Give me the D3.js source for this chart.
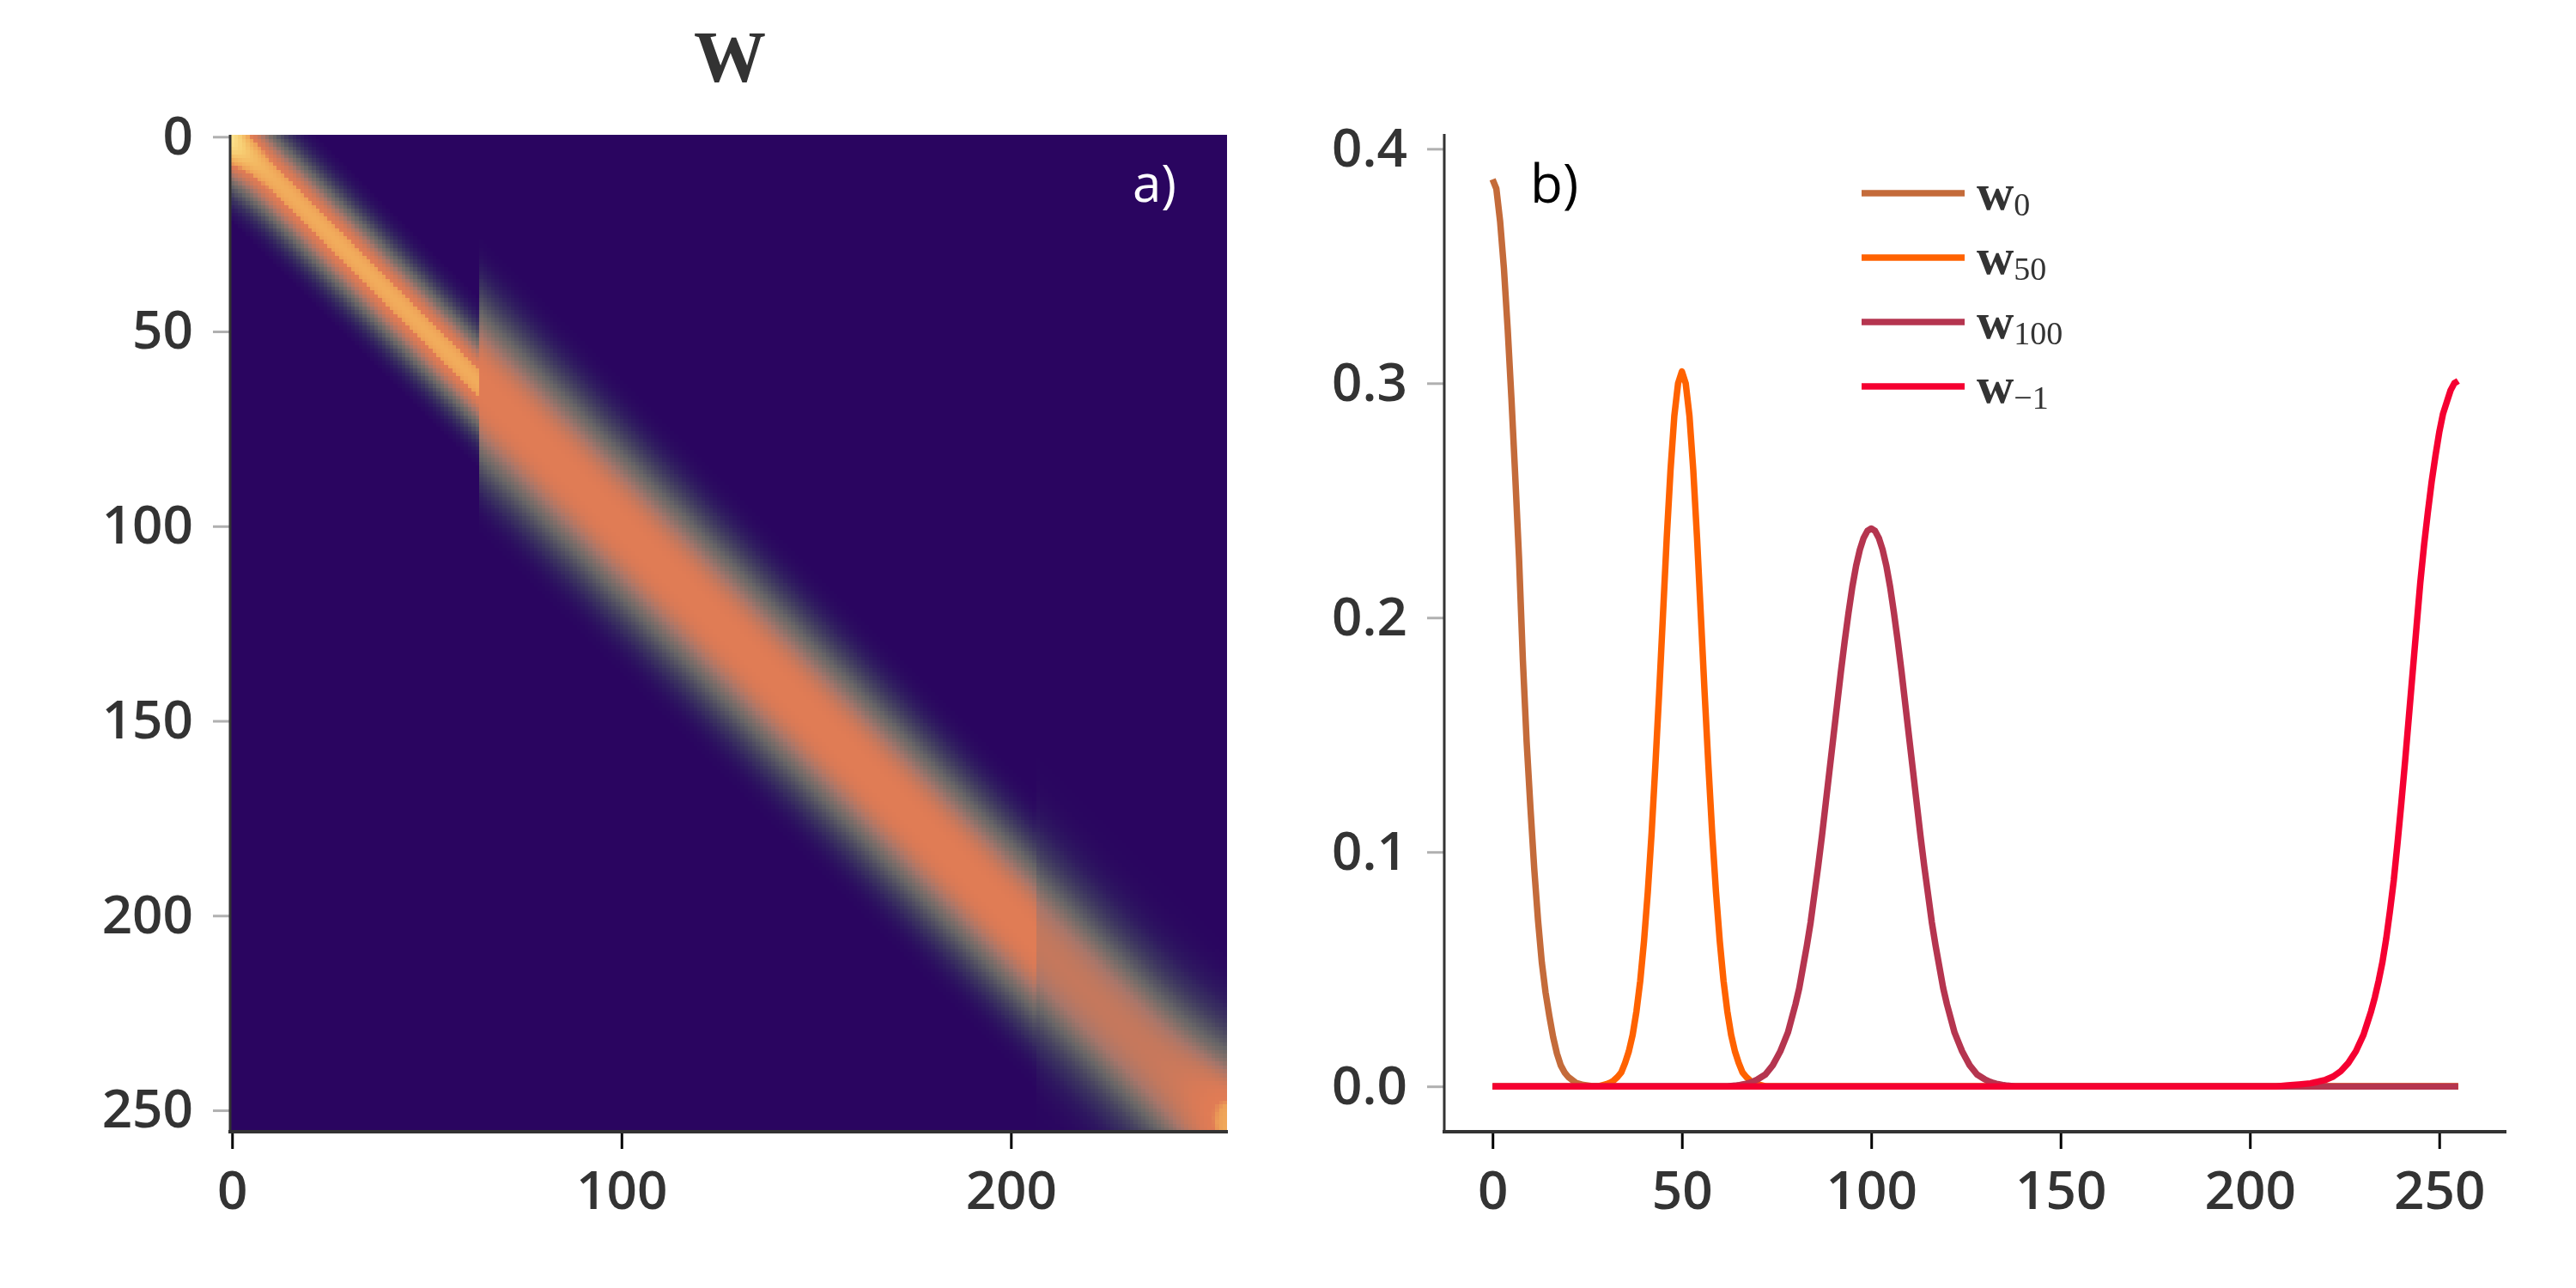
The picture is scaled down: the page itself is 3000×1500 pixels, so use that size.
<!DOCTYPE html>
<html>
<head>
<meta charset="utf-8">
<script src="https://cdn.jsdelivr.net/npm/d3@7"></script>
<style>
  body { margin: 0; background: #fff; }
  #wrap { position: relative; width: 3000px; height: 1500px; }
  #wrap canvas, #wrap svg { position: absolute; left: 0; top: 0; }
</style>
</head>
<body>
<div id="wrap">
  <canvas id="heat" width="3000" height="1500"></canvas>
  <svg id="chart" width="3000" height="1500"></svg>
</div>
<script>
const size = 256

// band profile of a column of W, by distance from the diagonal
const segmentStarts = [0, 64, 207]
const profileA = [0.305, 0.300, 0.286, 0.263, 0.234, 0.201, 0.168, 0.137, 0.108, 0.083, 0.062, 0.045,
  0.032, 0.022, 0.015, 0.010, 0.006, 0.004, 0.0025, 0.0015, 0.0009, 0.0005, 0]
const profileB = [0.238, 0.237, 0.234, 0.229, 0.222, 0.213, 0.202, 0.190, 0.177, 0.163, 0.149, 0.135,
  0.121, 0.107, 0.094, 0.082, 0.070, 0.060, 0.051, 0.042, 0.035, 0.029, 0.023, 0.019, 0.015, 0.012,
  0.009, 0.007, 0.005, 0.004, 0.003, 0.0022, 0.0016, 0.0011, 0.0008, 0.0005, 0.0003, 0.0002, 0]
const profileC = [0.151, 0.150, 0.149, 0.146, 0.144, 0.140, 0.135, 0.129, 0.123, 0.116, 0.108, 0.098,
  0.089, 0.079, 0.070, 0.061, 0.052, 0.044, 0.038, 0.032, 0.027, 0.023, 0.019, 0.016, 0.0135, 0.011,
  0.009, 0.0075, 0.006, 0.005, 0.004, 0.0033, 0.0026, 0.0021, 0.0018, 0.0014, 0.0012, 0.001, 0.0008,
  0.0006, 0.0005, 0.0004, 0.0003, 0.0002, 0.0002, 0.0001, 0.0001, 0.0001, 0]

// edge columns
const w0X = [0, 1, 2, 3, 4, 5, 6, 7, 8, 9, 10, 11, 12, 13, 14, 15, 16, 17, 18, 19, 20, 22, 24, 26, 30, 255]
const w0Y = [0.387, 0.383, 0.369, 0.349, 0.323, 0.293, 0.260, 0.225, 0.182, 0.147, 0.119, 0.093, 0.071,
  0.053, 0.040, 0.030, 0.021, 0.014, 0.009, 0.006, 0.004, 0.0015, 0.0006, 0.0002, 0, 0]
const wLastX = [0, 200, 207, 210, 213, 216, 218, 220, 222, 224, 226, 228, 230, 231, 232, 233, 234, 235,
  236, 237, 238, 239, 240, 241, 242, 243, 244, 245, 246, 247, 248, 249, 250, 251, 252, 253, 254, 255]
const wLastY = [0, 0, 0, 0.0004, 0.0008, 0.0013, 0.002, 0.0028, 0.0042, 0.0065, 0.010, 0.015, 0.022,
  0.027, 0.032, 0.038, 0.045, 0.053, 0.063, 0.075, 0.088, 0.104, 0.121, 0.139, 0.158, 0.177, 0.196,
  0.215, 0.231, 0.245, 0.258, 0.269, 0.279, 0.287, 0.292, 0.297, 0.300, 0.301]

const seriesNames = ["0", "50", "100", "\u22121"]
const seriesColors = ["#c46b3a", "#ff6200", "#b5354f", "#f50031"]

const heatTicksY = [0, 50, 100, 150, 200, 250]
const heatTicksX = [0, 100, 200]
const lineTicksX = [0, 50, 100, 150, 200, 250]
const lineTicksY = [0.0, 0.1, 0.2, 0.3, 0.4]

const cmapStops = [0, 0.002, 0.006, 0.013, 0.025, 0.045, 0.075, 0.110, 0.150, 0.190, 0.220, 0.238,
  0.260, 0.290, 0.340, 0.420, 0.550]
const cmapColors = ["#2a0560", "#2d1460", "#352860", "#403a60", "#525062", "#686667", "#867069",
  "#a8766a", "#c4785d", "#d87a57", "#df7b55", "#e07c55", "#eda058", "#f0a85a", "#f3b862", "#f7cd72",
  "#fbe08a"]

const tickFont = "'Open Sans', 'Noto Sans', sans-serif"
const svg = d3.select("#chart")

// ---------- panel a: heatmap ----------
const hx = d3.scaleLinear().domain([-0.5, size - 0.5]).range([268, 1429])
const hy = d3.scaleLinear().domain([-0.5, size - 0.5]).range([157, 1318])
const color = d3.scaleLinear().domain(cmapStops).range(cmapColors).clamp(true)

const profiles = [profileA, profileB, profileC]
const ctx = document.getElementById("heat").getContext("2d")

for (let j = 0; j < size; j++) {
  let seg = 0
  segmentStarts.forEach((s, k) => { if (j >= s) seg = k })
  const p = profiles[seg]
  const at = (d) => d < p.length ? p[d] : 0
  // columns sum to one: rescale the ones cut off by the border
  const full = p[0] + 2 * d3.sum(p.slice(1))
  let cut = 0
  for (let i = 0; i < size; i++) cut += at(Math.abs(i - j))
  const k = full / cut
  const x0 = Math.round(hx(j - 0.5)), x1 = Math.round(hx(j + 0.5))
  for (let i = 0; i < size; i++) {
    const y0 = Math.round(hy(i - 0.5)), y1 = Math.round(hy(i + 0.5))
    ctx.fillStyle = color(at(Math.abs(i - j)) * k)
    ctx.fillRect(x0, y0, x1 - x0, y1 - y0)
  }
}

const styleAxis = (g, tickColor) => {
  g.select(".domain").remove()
  g.selectAll(".tick line").attr("stroke", tickColor).attr("stroke-width", 3)
  g.selectAll(".tick text")
    .attr("fill", "#333")
    .style("font-family", tickFont)
    .style("font-size", "62px")
    .style("font-weight", 600)
}

const hAxisY = svg.append("g")
  .attr("transform", "translate(268,0)")
  .call(d3.axisLeft(hy).tickValues(heatTicksY).tickSize(20).tickPadding(23))
styleAxis(hAxisY, "#b0b0b0")

const hAxisX = svg.append("g")
  .attr("transform", "translate(0,1318)")
  .call(d3.axisBottom(hx).tickValues(heatTicksX).tickSize(20))
styleAxis(hAxisX, "#000")
hAxisX.selectAll(".tick text").attr("y", 90).attr("dy", 0)

svg.append("line").attr("x1", 268).attr("x2", 268).attr("y1", 157).attr("y2", 1320)
  .attr("stroke", "#333").attr("stroke-width", 3)
svg.append("line").attr("x1", 266).attr("x2", 1430).attr("y1", 1318).attr("y2", 1318)
  .attr("stroke", "#333").attr("stroke-width", 4)

svg.append("text").attr("x", 850).attr("y", 95).attr("text-anchor", "middle")
  .attr("fill", "#333").style("font-family", "'Liberation Serif', serif")
  .style("font-weight", "bold").style("font-size", "84px").text("W")

svg.append("text").attr("x", 1319).attr("y", 235).attr("fill", "#fff")
  .style("font-family", tickFont).style("font-size", "60px").text("a)")

// ---------- panel b: line plot ----------
const columnAt = (p, c) => d3.range(size).map(x => {
  const d = Math.abs(x - c)
  return [x, d < p.length ? p[d] : 0]
})
const series = [
  w0X.map((x, i) => [x, w0Y[i]]),
  columnAt(profileA, 50),
  columnAt(profileB, 100),
  wLastX.map((x, i) => [x, wLastY[i]])
]

const yMax = d3.max(series, s => d3.max(s, d => d[1]))
const yPad = yMax * 0.05
const lx = d3.scaleLinear().domain([-12.75, 267.75]).range([1682, 2919])
const ly = d3.scaleLinear().domain([-yPad, yMax + yPad]).range([1318, 156])

const lAxisY = svg.append("g")
  .attr("transform", "translate(1682,0)")
  .call(d3.axisLeft(ly).tickValues(lineTicksY).tickFormat(d3.format(".1f")).tickSize(20).tickPadding(23))
styleAxis(lAxisY, "#b0b0b0")

const lAxisX = svg.append("g")
  .attr("transform", "translate(0,1318)")
  .call(d3.axisBottom(lx).tickValues(lineTicksX).tickSize(20))
styleAxis(lAxisX, "#000")
lAxisX.selectAll(".tick text").attr("y", 90).attr("dy", 0)

svg.append("line").attr("x1", 1682).attr("x2", 1682).attr("y1", 156).attr("y2", 1320)
  .attr("stroke", "#333").attr("stroke-width", 3)
svg.append("line").attr("x1", 1680).attr("x2", 2919).attr("y1", 1318).attr("y2", 1318)
  .attr("stroke", "#333").attr("stroke-width", 4)

const line = d3.line().x(d => lx(d[0])).y(d => ly(d[1]))
svg.append("g").selectAll("path")
  .data(series)
  .enter()
  .append("path")
  .attr("d", line)
  .attr("fill", "none")
  .attr("stroke", (d, i) => seriesColors[i])
  .attr("stroke-width", 7.5)
  .attr("stroke-linejoin", "round")

svg.append("text").attr("x", 1782).attr("y", 236).attr("fill", "#000")
  .style("font-family", tickFont).style("font-size", "62px").text("b)")

const legend = svg.append("g").selectAll("g")
  .data(seriesNames)
  .enter()
  .append("g")
  .attr("transform", (d, i) => "translate(2168," + (225 + i * 75) + ")")

legend.append("line")
  .attr("x1", 0).attr("x2", 120).attr("y1", 0).attr("y2", 0)
  .attr("stroke", (d, i) => seriesColors[i]).attr("stroke-width", 7.5)

const label = legend.append("text")
  .attr("x", 134).attr("y", 19)
  .attr("fill", "#333")
  .style("font-family", "'Liberation Serif', serif")
label.append("tspan").style("font-weight", "bold").style("font-size", "60px").text("w")
label.append("tspan").attr("dy", 7).style("font-size", "38px").text(d => d)
</script>
</body>
</html>
